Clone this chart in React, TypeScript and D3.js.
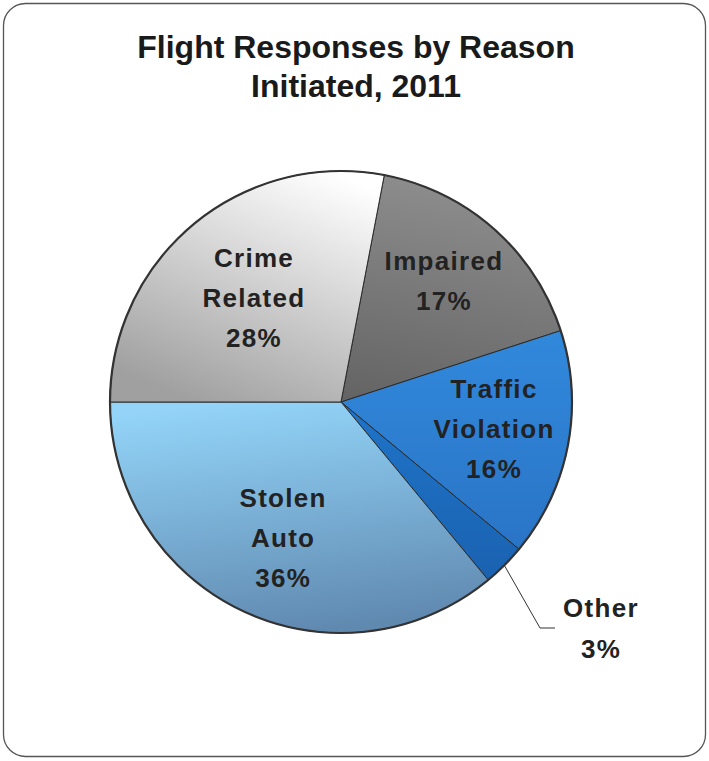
import React from "react";
import * as d3 from "d3";

const categories = ["Impaired", "Traffic Violation", "Other", "Stolen Auto", "Crime Related"];
const values = [17, 16, 3, 36, 28];
const labelLines = [["Impaired", "17%"], ["Traffic", "Violation", "16%"], ["Other", "3%"], ["Stolen", "Auto", "36%"], ["Crime", "Related", "28%"]];
const titleLines = ["Flight Responses by Reason", "Initiated, 2011"];

const W = 709, H = 761;
const cx = 341, cy = 402, R = 231;
const FONT = "'Liberation Sans', Arial, Helvetica, sans-serif";

const grads = [
  { x1: 0.2, y1: 0, x2: 0, y2: 1, stops: ["#8c8c8c", "#636363"] },
  { x1: 0, y1: 0, x2: 0, y2: 1, stops: ["#3189dc", "#2a74c6"] },
  { x1: 0, y1: 0, x2: 0, y2: 1, stops: ["#1f74c9", "#1a62b0"] },
  { x1: 0.3, y1: 0, x2: 0.5, y2: 1, stops: ["#93d4f8", "#6089b0"] },
  { x1: 0.8, y1: 0, x2: 0.3, y2: 1, stops: ["#ffffff", "#a0a0a0"] },
];

// label placement relative to slice: radius factor and angle offset (degrees)
const labelRadius = [0.688, 0.673, 0, 0.636, 0.587];
const labelAngleOffset = [-1, -0.8, 0, -2, -0.3];

export default function App() {
  const start = (10.8 * Math.PI) / 180;
  const pie = d3.pie<number>().sort(null).value((d) => d).startAngle(start).endAngle(start + 2 * Math.PI);
  const arcs = pie(values);
  const arc = d3.arc<d3.PieArcDatum<number>>().innerRadius(0).outerRadius(R);
  const lineH = 40;

  return (
    <svg width={W} height={H} style={{ position: "absolute", left: 0, top: 0, background: "#fff" }}>
      <defs>
        {grads.map((g, i) => (
          <linearGradient key={i} id={`g${i}`} x1={g.x1} y1={g.y1} x2={g.x2} y2={g.y2}>
            <stop offset="0" stopColor={g.stops[0]} />
            <stop offset="1" stopColor={g.stops[1]} />
          </linearGradient>
        ))}
      </defs>
      <rect x={3.5} y={3.5} width={702} height={753} rx={22} ry={22} fill="#fff" stroke="#555" strokeWidth={1.3} />
      {titleLines.map((t, i) => (
        <text key={i} x={356} y={58 + i * 39} textAnchor="middle" fontFamily={FONT}
          fontWeight="bold" fontSize={32} fill="#1a1a1a">
          {t}
        </text>
      ))}
      <g transform={`translate(${cx},${cy})`}>
        {arcs.map((a, i) => (
          <path key={i} d={arc(a) || ""} fill={`url(#g${i})`} stroke="#2a2a2a" strokeWidth={1} />
        ))}
        <circle r={R} fill="none" stroke="#333" strokeWidth={2.2} />
      </g>
      {arcs.map((a, i) => {
        if (categories[i] === "Other") return null;
        const mid = (a.startAngle + a.endAngle) / 2 + (labelAngleOffset[i] * Math.PI) / 180;
        const r = R * labelRadius[i];
        const x = cx + Math.sin(mid) * r;
        const y = cy - Math.cos(mid) * r;
        const lines = labelLines[i];
        const y0 = y - ((lines.length - 1) * lineH) / 2;
        return (
          <text key={i} textAnchor="middle" fontFamily={FONT} fontWeight="bold"
            fontSize={26} letterSpacing={1.3} fill="#222">
            {lines.map((l, j) => (
              <tspan key={j} x={x} y={y0 + j * lineH + 9.5}>{l}</tspan>
            ))}
          </text>
        );
      })}
      {(() => {
        const i = categories.indexOf("Other");
        const a = arcs[i];
        const mid = (a.startAngle + a.endAngle) / 2;
        const px = cx + Math.sin(mid) * R;
        const py = cy - Math.cos(mid) * R;
        return (
          <g>
            <polyline points={`${px},${py} 540,628 555,628`} fill="none" stroke="#333" strokeWidth={1} />
            <text textAnchor="middle" fontFamily={FONT} fontWeight="bold" fontSize={26} letterSpacing={1.3} fill="#222">
              {labelLines[i].map((l, j) => (
                <tspan key={j} x={601} y={617 + j * 41}>{l}</tspan>
              ))}
            </text>
          </g>
        );
      })()}
    </svg>
  );
}
